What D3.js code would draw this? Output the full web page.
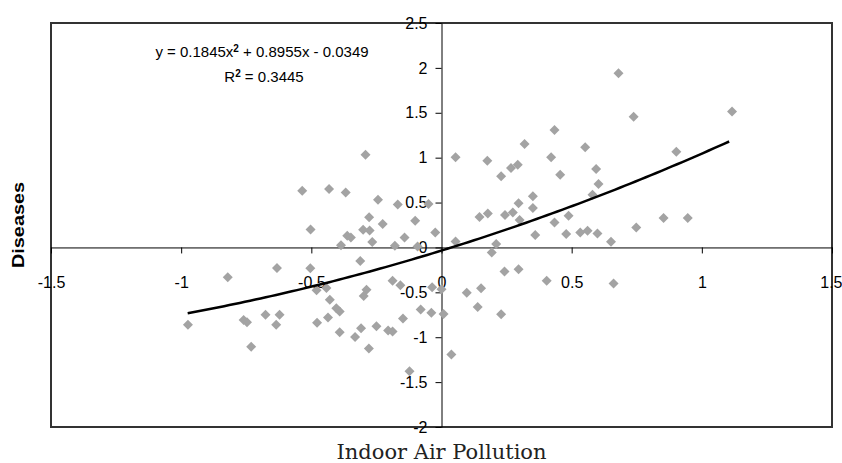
<!DOCTYPE html>
<html>
<head>
  <meta charset="utf-8">
  <script src="https://cdn.jsdelivr.net/npm/d3@7"></script>
  <style>
    body { margin: 0; background: #fff; }
    .tick text { font-family: "Liberation Sans", Arial, sans-serif; font-size: 16px; fill: #000; }
    .tick line, .domain { stroke: #000; }
  </style>
</head>
<body>
<svg width="842" height="463"></svg>
<script>

// values
var xVals = [-0.292, -0.535, -0.432, -0.368, -0.244, -0.168, -0.050, -0.278, -0.226, -0.101,
             -0.503, -0.301, -0.276, -0.362, -0.348, -0.142, -0.024, -0.266, -0.386, -0.179,
             -0.092, -0.632, -0.821, -0.504, -0.312, -0.188, -0.158, -0.480, -0.442, -0.288,
             -0.299, -0.036, -0.429, -0.404, -0.391, -0.080, -0.039, -0.974, -0.760, -0.747,
             -0.676, -0.622, -0.635, -0.478, -0.436, -0.391, -0.332, -0.309, -0.250, -0.205,
             -0.188, -0.148, -0.731, -0.279, -0.123,
             0.680, 0.738, 1.116, 0.434, 0.552, 0.319, 0.054, 0.176, 0.421, 0.902,
             0.229, 0.267, 0.293, 0.456, 0.594, 0.603, 0.580, 0.351, 0.351, 0.296,
             0.274, 0.146, 0.178, 0.244, 0.300, 0.434, 0.488, 0.853, 0.946, 0.748,
             0.360, 0.479, 0.533, 0.561, 0.599, 0.651, 0.210, 0.193, 0.054, 0.242,
             0.296, 0.404, 0.661, 0.097, 0.152, 0.000, 0.139, 0.229, 0.008, 0.038];

var yVals = [1.033, 0.632, 0.651, 0.613, 0.532, 0.478, 0.485, 0.335, 0.262, 0.298,
             0.200, 0.197, 0.188, 0.130, 0.110, 0.110, 0.167, 0.060, 0.025, 0.020,
             0.010, -0.228, -0.333, -0.232, -0.152, -0.370, -0.420, -0.478, -0.452, -0.472,
             -0.540, -0.442, -0.584, -0.677, -0.714, -0.690, -0.728, -0.862, -0.807, -0.833,
             -0.751, -0.751, -0.862, -0.840, -0.781, -0.945, -0.998, -0.900, -0.877, -0.926,
             -0.937, -0.792, -1.105, -1.127, -1.380,
             1.941, 1.457, 1.513, 1.309, 1.115, 1.152, 1.006, 0.967, 1.004, 1.067,
             0.792, 0.885, 0.922, 0.810, 0.874, 0.706, 0.587, 0.569, 0.439, 0.491,
             0.390, 0.340, 0.379, 0.361, 0.305, 0.279, 0.353, 0.327, 0.327, 0.223,
             0.138, 0.149, 0.167, 0.186, 0.156, 0.063, 0.037, -0.056, 0.067, -0.268,
             -0.242, -0.372, -0.401, -0.505, -0.455, -0.465, -0.662, -0.743, -0.740, -1.192];

// trendline as printed on the chart: y = a x^2 + b x + c
var trendCoef = [0.1845, 0.8955, -0.0349];
var trendRange = [-0.975, 1.11];

var xTicks = [-1.5, -1, -0.5, 0, 0.5, 1, 1.5];
var yTicks = [-2, -1.5, -1, -0.5, 0, 0.5, 1, 1.5, 2, 2.5];

var eqText = "y = 0.1845x";
var eqRest = " + 0.8955x - 0.0349";
var r2Text = " = 0.3445";

var svg = d3.select("svg");

var x = d3.scaleLinear().domain([-1.5, 1.5]).range([51, 832]);
var y = d3.scaleLinear().domain([-2, 2.5]).range([427, 23]);

// plot border
svg.append("rect")
    .attr("x", x(-1.5))
    .attr("y", y(2.5))
    .attr("width", x(1.5) - x(-1.5))
    .attr("height", y(-2) - y(2.5))
    .attr("fill", "none")
    .attr("stroke", "#333")
    .attr("stroke-width", 2);

var fmt = function(d) { return String(d); };

var gx = svg.append("g")
    .attr("transform", "translate(0," + y(0) + ")")
    .call(d3.axisBottom(x).tickValues(xTicks).tickSize(6).tickSizeOuter(0)
      .tickPadding(23).tickFormat(fmt));

// last label sits against the right edge of the picture
gx.selectAll(".tick text")
    .filter(function(d) { return d === 1.5; })
    .attr("text-anchor", "end")
    .attr("x", 10);

svg.append("g")
    .attr("transform", "translate(" + x(0) + ",0)")
    .call(d3.axisLeft(y).tickValues(yTicks).tickSize(6).tickSizeOuter(0)
      .tickPadding(8).tickFormat(fmt));

// points
var pts = xVals.map(function(d, i) { return [d, yVals[i]]; });

svg.append("g")
  .selectAll("path")
  .data(pts)
  .enter().append("path")
    .attr("d", d3.symbol(d3.symbolSquare, 50))
    .attr("transform", function(d) {
      return "translate(" + x(d[0]) + "," + y(d[1]) + ") rotate(45)";
    })
    .attr("fill", "#a3a3a3");

// trend line
var trendX = d3.range(trendRange[0], trendRange[1] + 0.001, 0.02);
var line = d3.line()
    .x(function(d) { return x(d); })
    .y(function(d) { return y(trendCoef[0] * d * d + trendCoef[1] * d + trendCoef[2]); });

svg.append("path")
    .datum(trendX)
    .attr("d", line)
    .attr("fill", "none")
    .attr("stroke", "#000")
    .attr("stroke-width", 2.5);

// equation
var eq = svg.append("text")
    .attr("x", 262)
    .attr("y", 57)
    .attr("text-anchor", "middle")
    .style("font-family", "Liberation Sans, Arial, sans-serif")
    .style("font-size", "15px");
eq.append("tspan").text(eqText);
eq.append("tspan").attr("dy", -5).style("font-size", "10px").style("font-weight", "bold").text("2");
eq.append("tspan").attr("dy", 5).text(eqRest);

var r2 = svg.append("text")
    .attr("x", 264)
    .attr("y", 82)
    .attr("text-anchor", "middle")
    .style("font-family", "Liberation Sans, Arial, sans-serif")
    .style("font-size", "15px");
r2.append("tspan").text("R");
r2.append("tspan").attr("dy", -5).style("font-size", "10px").style("font-weight", "bold").text("2");
r2.append("tspan").attr("dy", 5).text(r2Text);

// axis titles
svg.append("text")
    .attr("transform", "translate(24,225) rotate(-90)")
    .attr("text-anchor", "middle")
    .attr("textLength", 86)
    .attr("lengthAdjust", "spacingAndGlyphs")
    .style("font-family", "Liberation Sans, Arial, sans-serif")
    .style("font-weight", "bold")
    .style("font-size", "16px")
    .text("Diseases");

svg.append("text")
    .attr("x", 441.5)
    .attr("y", 459)
    .attr("text-anchor", "middle")
    .style("font-family", "DejaVu Serif, serif")
    .style("font-size", "21px")
    .style("fill", "#222")
    .text("Indoor Air Pollution");

</script>
</body>
</html>
